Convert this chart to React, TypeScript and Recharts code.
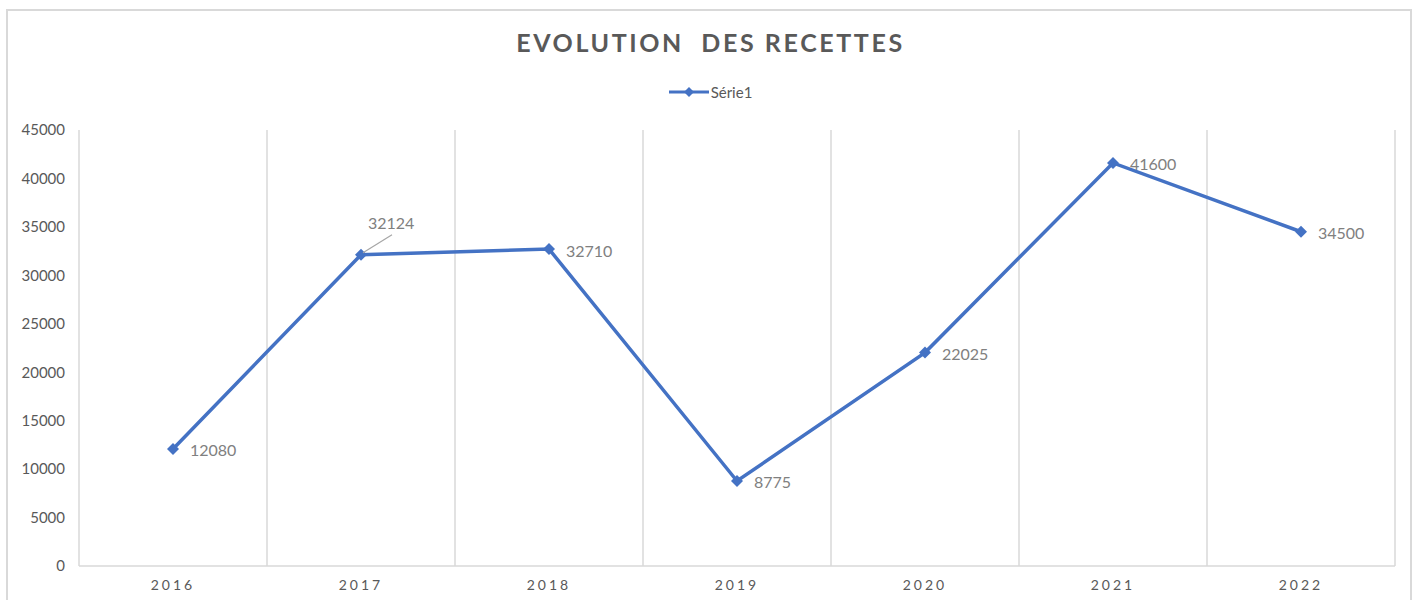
import React from 'react';
import { LineChart, Line, XAxis, YAxis, CartesianGrid, LabelList } from 'recharts';

// données
const years = ['2016', '2017', '2018', '2019', '2020', '2021', '2022'];
const recettes = [12080, 32124, 32710, 8775, 22025, 41600, 34500];
const yTicks = [0, 5000, 10000, 15000, 20000, 25000, 30000, 35000, 40000, 45000];

const data = years.map((year, i) => ({ year, value: recettes[i] }));

const FONT = 'Lato, "Open Sans", sans-serif';
const BLUE = '#4472C4';
const TEXT = '#595959';

// lignes verticales aux limites des catégories
const categoryBounds = ({ offset }: any) =>
  Array.from({ length: years.length + 1 }, (_, i) => offset.left + (i * offset.width) / years.length);

const Diamond = (props: any) => {
  const { cx, cy } = props;
  if (cx == null || cy == null) return null;
  const r = 6;
  return <polygon points={`${cx},${cy - r} ${cx + r},${cy} ${cx},${cy + r} ${cx - r},${cy}`} fill={BLUE} />;
};

const PointLabel = (props: any) => {
  const { x, y, value, index } = props;
  if (index === 1) {
    // étiquette déplacée au-dessus avec ligne de rappel
    return (
      <g>
        <line x1={x + 2} y1={y - 2} x2={x + 31} y2={y - 20} stroke="#a6a6a6" strokeWidth={1.2} />
        <text x={x + 7} y={y - 32} fill="#808080" fontSize={16} fontFamily={FONT} dominantBaseline="central">
          {value}
        </text>
      </g>
    );
  }
  return (
    <text x={x + 17} y={y + 1} fill="#808080" fontSize={16} fontFamily={FONT} dominantBaseline="central">
      {value}
    </text>
  );
};

export default function App() {
  return (
    <div style={{ position: 'absolute', left: 0, top: 0, width: 1421, height: 600, background: '#fff', overflow: 'hidden' }}>
      <div
        style={{
          position: 'absolute',
          left: 6,
          top: 9,
          width: 1406,
          height: 620,
          border: '2px solid #d9d9d9',
          boxSizing: 'border-box',
        }}
      />
      <div
        style={{
          position: 'absolute',
          left: 0,
          top: 27,
          width: 1421,
          textAlign: 'center',
          fontFamily: FONT,
          fontWeight: 700,
          fontSize: 25,
          letterSpacing: 2.6,
          color: TEXT,
          whiteSpace: 'pre',
        }}
      >
        {'EVOLUTION  DES RECETTES'}
      </div>
      <div
        style={{
          position: 'absolute',
          left: 0,
          top: 83,
          width: 1421,
          display: 'flex',
          justifyContent: 'center',
          alignItems: 'center',
          fontFamily: FONT,
          fontSize: 15,
          color: TEXT,
        }}
      >
        <svg width={40} height={12} style={{ marginRight: 2 }}>
          <line x1={0} y1={6} x2={40} y2={6} stroke={BLUE} strokeWidth={3} />
          <polygon points="20,1 25,6 20,11 15,6" fill={BLUE} />
        </svg>
        <span>Série1</span>
      </div>
      <LineChart
        width={1421}
        height={600}
        data={data}
        margin={{ top: 130, right: 26, bottom: 0, left: 19 }}
        style={{ position: 'absolute', left: 0, top: 0 }}
      >
        <CartesianGrid horizontal={false} vertical stroke="#d9d9d9" strokeWidth={1.5} verticalCoordinatesGenerator={categoryBounds} />
        <XAxis
          dataKey="year"
          scale="band"
          height={34}
          axisLine={{ stroke: '#d9d9d9', strokeWidth: 1.5 }}
          tickLine={false}
          tickSize={0}
          tickMargin={14}
          tick={{ fill: TEXT, fontSize: 14, fontFamily: FONT, letterSpacing: 3 }}
        />
        <YAxis
          width={60}
          domain={[0, 45000]}
          ticks={yTicks}
          axisLine={false}
          tickLine={false}
          tickSize={0}
          tickMargin={14}
          tick={{ fill: TEXT, fontSize: 15, fontFamily: FONT }}
        />
        <Line
          dataKey="value"
          name="Série1"
          stroke={BLUE}
          strokeWidth={3.5}
          dot={<Diamond />}
          activeDot={false}
          isAnimationActive={false}
        >
          <LabelList dataKey="value" content={<PointLabel />} />
        </Line>
      </LineChart>
    </div>
  );
}
